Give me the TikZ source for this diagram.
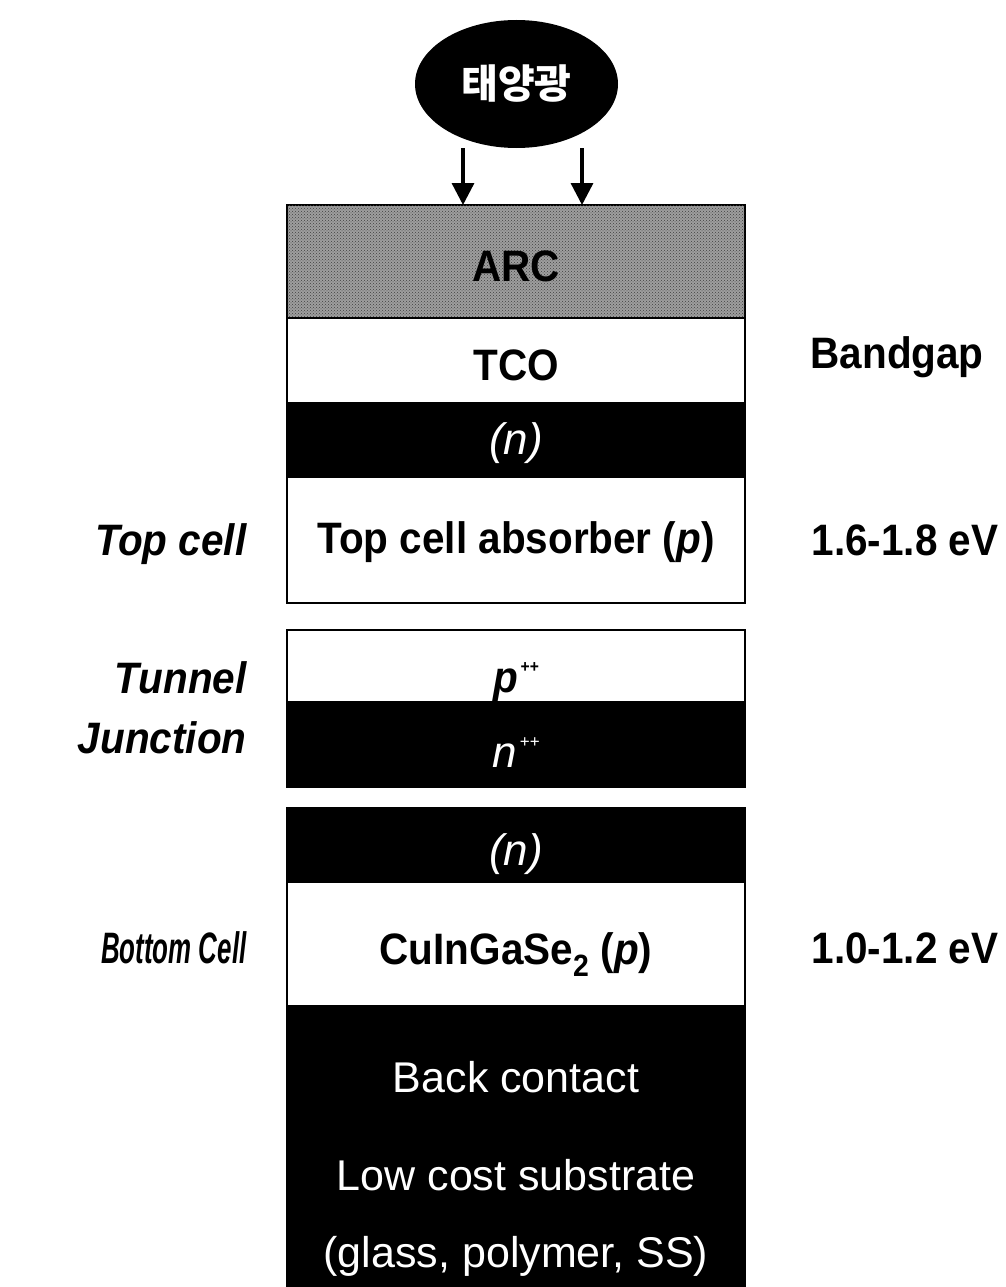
\documentclass[tikz,border=0pt]{standalone}
\usepackage{fontspec}
\setmainfont[FakeStretch=0.92]{Liberation Sans}
\newfontfamily\plainfont{Liberation Sans}
\newfontfamily\krfont{Noto Sans CJK KR}
\usetikzlibrary{positioning,arrows.meta,shapes.geometric,patterns}

\newcommand\bigsz{\fontsize{44}{50}\selectfont}
\newcommand\dopesup{\raisebox{20pt}{\fontsize{17}{17}\selectfont\,++}}

\tikzset{
  layer/.style={draw, line width=2.5pt, minimum width=458pt, inner sep=0pt, outer sep=0pt,
    text height=48pt, text depth=8pt, font=\bigsz\bfseries},
  darklayer/.style={layer, fill=black, text=white, font=\bigsz\plainfont\itshape},
  sidelabel/.style={font=\bigsz\bfseries\itshape, anchor=base east},
  gaplabel/.style={font=\bigsz\bfseries, anchor=base west},
  backtext/.style={text=white, font=\fontsize{43}{48}\selectfont\plainfont, anchor=base},
  ray/.style={line width=3.4pt, -{Triangle[width=22pt,length=22pt]}},
}

\begin{document}
\begin{tikzpicture}[x=1pt, y=-1pt]
  \useasboundingbox (0,0) rectangle (1006,1287);

  % sunlight
  \node[ellipse, fill=black, minimum width=203pt, minimum height=128pt, inner sep=0pt,
    text=white, font=\krfont\fontsize{40}{44}\selectfont\bfseries] (sun) at (516.5,84) {태양광};

  % top cell stack
  \node[layer, fill=black!38, postaction={pattern=crosshatch dots, pattern color=black!75},
    minimum height=113pt, anchor=north] (arc) at (516,205) {ARC};
  \node[layer, minimum height=85pt, below=0pt of arc] (tco) {TCO};
  \node[darklayer, minimum height=74pt, below=0pt of tco] (topn) {\raisebox{6pt}{(n)}};
  \node[layer, minimum height=126pt, below=0pt of topn] (topabs) {\raisebox{7pt}{Top cell absorber (\textit{p})}};

  % tunnel junction
  \node[layer, minimum height=72pt, below=27pt of topabs] (tunp) {\raisebox{-6pt}{\textit{p}\dopesup}};
  \node[darklayer, minimum height=85pt, below=0pt of tunp] (tunn) {\raisebox{-3pt}{n\dopesup}};

  % bottom cell stack
  \node[darklayer, minimum height=74pt, below=21pt of tunn] (botn) {(n)};
  \node[layer, fill=white, minimum height=124pt, below=0pt of botn] (cigs) {CuInGaSe\textsubscript{2} (\textit{p})};
  \node[layer, fill=black, minimum height=281pt, below=0pt of cigs] (subs) {};
  \node[backtext] (backc) at (516,1092) {Back contact};
  \node[backtext] (lowcost) at (516,1190) {Low cost substrate};
  \node[backtext] (glass) at (516,1267) {(glass, polymer, SS)};

  % light rays
  \coordinate (ray1) at (463,148);
  \coordinate (ray2) at (582,148);
  \draw[ray] (ray1) -- (ray1 |- arc.north);
  \draw[ray] (ray2) -- (ray2 |- arc.north);

  % labels
  \node[sidelabel] (toplab) at (250,555) {Top cell};
  \node[sidelabel] (tunlab) at (250,693) {Tunnel};
  \node[sidelabel] (junlab) at (250,753) {Junction};
  \node[sidelabel] (botlab) at (250,963) {\scalebox{0.64}[1]{Bottom Cell}};
  \node[gaplabel] (bgap) at (807,368) {Bandgap};
  \node[gaplabel] (topgap) at (808,555) {1.6-1.8 eV};
  \node[gaplabel] (botgap) at (808,963) {1.0-1.2 eV};
\end{tikzpicture}
\end{document}
